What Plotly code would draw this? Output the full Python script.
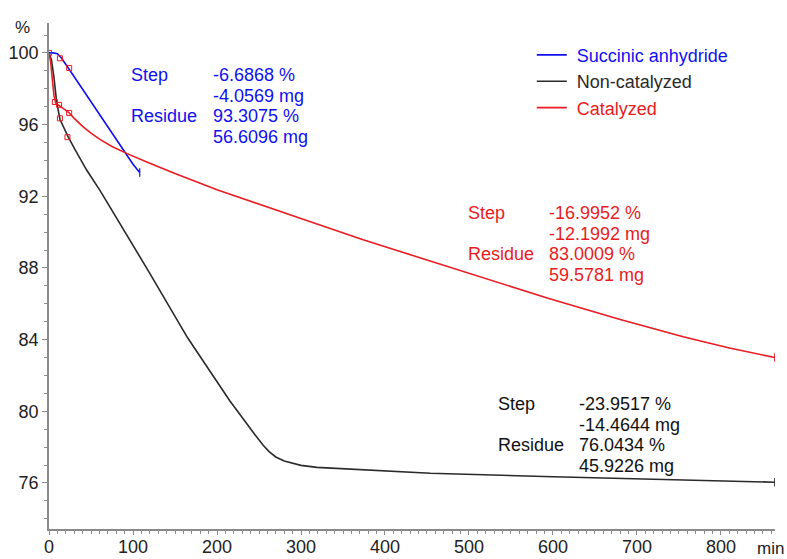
import plotly.graph_objects as go

# ---------------- data ----------------
sa_t = [0, 5, 10, 15, 23, 30, 40, 50, 60, 70, 80, 90, 100, 108]
sa_v = [100, 100, 99.95, 99.7, 99.16, 98.67, 97.97, 97.28, 96.58, 95.88, 95.18, 94.48, 93.79, 93.33]

nc_t = [0, 3, 6, 9, 13, 18, 23, 31, 45, 61, 85, 120, 165, 215, 245, 255, 262, 270, 280, 290, 300,
        319, 400, 454, 600, 700, 864]
nc_v = [100, 99.6, 98.6, 97.3, 96.3, 95.75, 95.3, 94.6, 93.45, 92.3, 90.45, 87.7, 84.1, 80.6, 78.7,
        78.1, 77.75, 77.45, 77.22, 77.08, 76.98, 76.87, 76.65, 76.54, 76.35, 76.22, 76.04]

ca_t = [0, 2, 4, 6, 8, 13, 23, 30, 40, 50, 61, 75, 93, 120, 150, 200, 250, 299, 374, 477, 596,
        680, 755, 810, 864]
ca_v = [100, 99.5, 98.5, 97.6, 97.2, 97.05, 96.7, 96.35, 95.9, 95.52, 95.16, 94.78, 94.38, 93.84,
        93.27, 92.37, 91.55, 90.77, 89.57, 88.03, 86.28, 85.12, 84.16, 83.53, 83.0]

# step-evaluation markers (small open squares)
mk_t = [0, 7, 12, 24, 13, 24, 13, 22]
mk_v = [100, 97.26, 97.1, 96.65, 99.7, 99.16, 96.35, 95.3]

names = ["Succinic anhydride", "Non-catalyzed", "Catalyzed"]

blue_labels = ["Step", "", "Residue", ""]
blue_values = ["-6.6868 %", "-4.0569 mg", "93.3075 %", "56.6096 mg"]
red_labels = ["Step", "", "Residue", ""]
red_values = ["-16.9952 %", "-12.1992 mg", "83.0009 %", "59.5781 mg"]
black_labels = ["Step", "", "Residue", ""]
black_values = ["-23.9517 %", "-14.4644 mg", "76.0434 %", "45.9226 mg"]

x_ticks = [0, 100, 200, 300, 400, 500, 600, 700, 800]
y_ticks = [76, 80, 84, 88, 92, 96, 100]

# ---------------- styles ----------------
BLUE = "#1010f0"
BLACK = "#2a2a2a"
RED = "#e81c22"
FONT = "Liberation Sans"
AXC = "#8a8a8a"
FS = 18

fig = go.Figure()

for t, v, nm, col in [(sa_t, sa_v, names[0], BLUE), (nc_t, nc_v, names[1], BLACK), (ca_t, ca_v, names[2], RED)]:
    fig.add_trace(go.Scatter(
        x=t, y=v, mode="lines", line=dict(color=col, width=1.6),
        name=f"<span style='color:{col}'>&nbsp;{nm}</span>"))
    fig.add_trace(go.Scatter(
        x=[t[-1]], y=[v[-1]], mode="markers", showlegend=False, hoverinfo="skip",
        marker=dict(symbol="line-ns-open", size=6, color=col, line=dict(color=col, width=1.2))))

fig.add_trace(go.Scatter(
    x=mk_t, y=mk_v, mode="markers", showlegend=False,
    marker=dict(symbol="square-open", size=5, color=RED, line=dict(width=1, color=RED))))


# ---------------- annotations ----------------
def column(lines):
    return "<br>".join(f"<span style='font-size:{FS}px'>{s if s else '&nbsp;'}</span>" for s in lines)


def block(labels, values, xl, xv, ymid, col):
    for x, lines in [(xl, labels), (xv, values)]:
        fig.add_annotation(x=x, y=ymid, text=column(lines), showarrow=False, xanchor="left",
                           yanchor="middle", align="left",
                           font=dict(family=FONT, size=15.8, color=col))


block(blue_labels, blue_values, 95, 193, 97.04, BLUE)
block(red_labels, red_values, 496, 593, 89.34, RED)
block(black_labels, black_values, 532, 629, 78.68, "#111111")

fig.add_annotation(x=-0.037, y=0.992, xref="paper", yref="paper", text="%", showarrow=False,
                   xanchor="center", yanchor="middle",
                   font=dict(family=FONT, size=17, color="#222"))

fig.add_annotation(x=0.972, y=-0.0395, xref="paper", yref="paper", text="min", showarrow=False,
                   xanchor="left", yanchor="middle",
                   font=dict(family=FONT, size=17, color="#222"))

axis_common = dict(showline=True, linecolor=AXC, linewidth=1.5, ticks="outside", tickcolor=AXC,
                   tickwidth=1.2, showgrid=False, zeroline=False, automargin=False,
                   tickfont=dict(family=FONT, size=18, color="#222"))

fig.update_layout(
    width=787, height=559,
    margin=dict(l=49, r=12, t=23, b=30),
    paper_bgcolor="white", plot_bgcolor="white",
    xaxis=dict(range=[0, 864.3], tickvals=x_ticks, ticklen=4, ticklabelstandoff=-3,
               minor=dict(dtick=10, tick0=0, ticks="outside", ticklen=3, tickcolor=AXC, tickwidth=1),
               **axis_common),
    yaxis=dict(range=[73.43, 101.67], tickvals=y_ticks, ticklen=5,
               minor=dict(dtick=1, tick0=0, ticks="outside", ticklen=3, tickcolor=AXC, tickwidth=1),
               **axis_common),
    legend=dict(x=0.665, y=0.973, xanchor="left", yanchor="top", bgcolor="rgba(0,0,0,0)",
                font=dict(family=FONT, size=FS), tracegroupgap=4, itemwidth=30),
    showlegend=True,
)

fig.write_html("out.html")
